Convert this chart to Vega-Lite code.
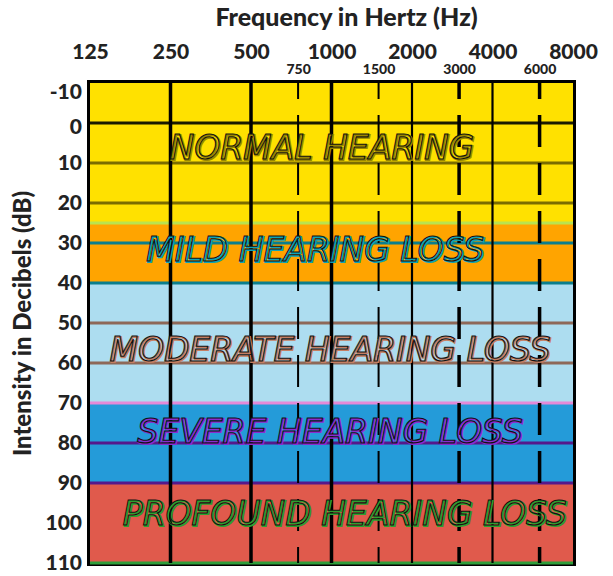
{
  "$schema": "https://vega.github.io/schema/vega-lite/v6.json",
  "width": 483,
  "height": 480,
  "autosize": "none",
  "padding": {"left": 90, "top": 83, "right": 40, "bottom": 13},
  "background": "white",
  "config": {
    "view": {"stroke": "black", "strokeWidth": 6},
    "axis": {"grid": false, "ticks": false, "domain": false}
  },
  "resolve": {
    "scale": {"color": "independent", "fill": "independent", "stroke": "independent"},
    "axis": {"x": "independent"}
  },
  "layer": [
    {
      "data": {"values": [
        {"from": -10, "to": 25, "band": "Normal"},
        {"from": 25, "to": 40, "band": "Mild"},
        {"from": 40, "to": 70, "band": "Moderate"},
        {"from": 70, "to": 90, "band": "Severe"},
        {"from": 90, "to": 110, "band": "Profound"}
      ]},
      "mark": {"type": "rect"},
      "encoding": {
        "y": {
          "field": "from", "type": "quantitative",
          "scale": {"domain": [-10, 110], "reverse": true, "nice": false, "zero": false},
          "axis": {
            "labels": false,
            "title": "Intensity in Decibels (dB)",
            "titleFont": "Lato", "titleFontWeight": 900, "titleFontSize": 24, "titleColor": "#222222",
            "titlePadding": 55
          }
        },
        "y2": {"field": "to"},
        "color": {
          "field": "band", "type": "nominal", "legend": null,
          "scale": {
            "domain": ["Normal", "Mild", "Moderate", "Severe", "Profound"],
            "range": ["#FFE100", "#FFA400", "#ADDDF0", "#249BD9", "#E05A4C"]
          }
        }
      }
    },
    {
      "data": {"values": [
        {"db": 0, "kind": "black"},
        {"db": 10, "kind": "olive"},
        {"db": 20, "kind": "olive"},
        {"db": 25, "kind": "lime"},
        {"db": 30, "kind": "teal"},
        {"db": 40, "kind": "teal"},
        {"db": 50, "kind": "brown"},
        {"db": 60, "kind": "brown"},
        {"db": 70, "kind": "pink"},
        {"db": 80, "kind": "purple"},
        {"db": 90, "kind": "purple"},
        {"db": 110, "kind": "green"}
      ]},
      "mark": {"type": "rule", "strokeWidth": 3},
      "encoding": {
        "y": {"field": "db", "type": "quantitative"},
        "stroke": {
          "field": "kind", "type": "nominal", "legend": null,
          "scale": {
            "domain": ["black", "olive", "lime", "teal", "brown", "pink", "purple", "green"],
            "range": ["#1a1a00", "#7A6C00", "#B9E34F", "#0B7E8C", "#8E6858", "#E58AD8", "#55188C", "#2E9E3A"]
          }
        }
      }
    },
    {
      "data": {"values": [{"freq": 250}, {"freq": 500}, {"freq": 1000}]},
      "mark": {"type": "rule", "color": "black", "strokeWidth": 3.5},
      "encoding": {
        "x": {
          "field": "freq", "type": "quantitative",
          "scale": {"type": "log", "base": 2, "domain": [125, 8000], "nice": false},
          "axis": {
            "orient": "top",
            "values": [125, 250, 500, 1000, 2000, 4000, 8000],
            "labelExpr": "'' + datum.value",
            "labelFont": "Lato", "labelFontWeight": 900, "labelFontSize": 21, "labelColor": "#222222",
            "labelPadding": 21,
            "labelFlush": false, "labelOverlap": false,
            "title": "Frequency in Hertz (Hz)",
            "titleFont": "Lato", "titleFontWeight": 900, "titleFontSize": 25, "titleColor": "#222222",
            "titlePadding": 11, "titleX": 256, "titleAlign": "center",
            "encode": {"labels": {"update": {"dx": {"signal": "datum.value == 125 ? 7 : datum.value == 250 ? 12 : datum.value == 500 ? 13 : datum.value == 1000 ? 9 : datum.value == 2000 ? 4 : datum.value == 4000 ? -2 : datum.value == 8000 ? -11 : 0"}}}}
          }
        }
      }
    },
    {
      "data": {"values": [{"freq": 2000}, {"freq": 4000}]},
      "mark": {"type": "rule", "color": "black", "strokeWidth": 2.2},
      "encoding": {"x": {"field": "freq", "type": "quantitative", "axis": null}}
    },
    {
      "data": {"values": [{"freq": 750}, {"freq": 1500}]},
      "mark": {"type": "rule", "color": "black", "strokeWidth": 2, "strokeDash": [32, 16], "strokeDashOffset": 16},
      "encoding": {
        "x": {
          "field": "freq", "type": "quantitative",
          "axis": {
            "orient": "top",
            "values": [750, 1500, 3000, 6000],
            "labelExpr": "'' + datum.value",
            "labelFont": "Lato", "labelFontWeight": 900, "labelFontSize": 14, "labelColor": "#222222",
            "labelPadding": 7, "labelFlush": false, "labelOverlap": false,
            "title": null,
            "encode": {"labels": {"update": {"dx": {"signal": "datum.value == 750 ? 8 : datum.value == 1500 ? 4 : datum.value == 3000 ? 2 : 0"}}}}
          }
        }
      }
    },
    {
      "data": {"values": [{"freq": 3000}, {"freq": 6000}]},
      "mark": {"type": "rule", "color": "black", "strokeWidth": 3.5, "strokeDash": [32, 16], "strokeDashOffset": 16},
      "encoding": {"x": {"field": "freq", "type": "quantitative", "axis": null}}
    },
    {
      "data": {"values": [
        {"db": 10}, {"db": 20}, {"db": 30}, {"db": 40}, {"db": 50}, {"db": 60},
        {"db": 70}, {"db": 80}, {"db": 90}, {"db": 100}, {"db": 110}
      ]},
      "mark": {"type": "text", "font": "Lato", "fontWeight": 900, "fontSize": 21, "color": "#222222", "align": "right", "baseline": "middle", "dx": -8, "dy": 1},
      "encoding": {
        "x": {"datum": 125, "type": "quantitative", "axis": null},
        "y": {"field": "db", "type": "quantitative"},
        "text": {"field": "db", "type": "quantitative"}
      }
    },
    {
      "data": {"values": [{"db": 0}]},
      "mark": {"type": "text", "font": "Lato", "fontWeight": 900, "fontSize": 21, "color": "#222222", "align": "right", "baseline": "middle", "dx": -8, "dy": 5},
      "encoding": {
        "x": {"datum": 125, "type": "quantitative", "axis": null},
        "y": {"field": "db", "type": "quantitative"},
        "text": {"field": "db", "type": "quantitative"}
      }
    },
    {
      "data": {"values": [{"db": -10, "label": "-10"}]},
      "mark": {"type": "text", "font": "Lato", "fontWeight": 900, "fontSize": 21, "color": "#222222", "align": "right", "baseline": "middle", "dx": -8, "dy": 10},
      "encoding": {
        "x": {"datum": 125, "type": "quantitative", "axis": null},
        "y": {"field": "db", "type": "quantitative"},
        "text": {"field": "label"}
      }
    },
    {
      "data": {"values": [
        {"label": "NORMAL HEARING", "freq": 920, "db": 6.5, "band": "Normal"},
        {"label": "MILD HEARING LOSS", "freq": 868, "db": 32, "band": "Mild"},
        {"label": "MODERATE HEARING LOSS", "freq": 987, "db": 57, "band": "Moderate"},
        {"label": "SEVERE HEARING LOSS", "freq": 987, "db": 77.5, "band": "Severe"},
        {"label": "PROFOUND HEARING LOSS", "freq": 1120, "db": 98, "band": "Profound"}
      ]},
      "layer": [
        {
          "mark": {"type": "text", "font": "DejaVu Sans", "fontSize": 33, "fontStyle": "italic", "baseline": "middle", "align": "center", "strokeWidth": 2, "fillOpacity": 0, "dx": 1, "dy": 1},
          "encoding": {
            "x": {"field": "freq", "type": "quantitative", "axis": null},
            "y": {"field": "db", "type": "quantitative"},
            "text": {"field": "label"},
            "stroke": {
              "field": "band", "type": "nominal", "legend": null,
              "scale": {"domain": ["Normal", "Mild", "Moderate", "Severe", "Profound"],
                        "range": ["#9A8700", "#0FA3B5", "#C47E62", "#8A2BD0", "#2EA02E"]}
            }
          }
        },
        {
          "mark": {"type": "text", "font": "DejaVu Sans", "fontSize": 33, "fontStyle": "italic", "baseline": "middle", "align": "center", "stroke": "#111111", "strokeWidth": 1.1, "fillOpacity": 0},
          "encoding": {
            "x": {"field": "freq", "type": "quantitative", "axis": null},
            "y": {"field": "db", "type": "quantitative"},
            "text": {"field": "label"}
          }
        }
      ]
    }
  ]
}
